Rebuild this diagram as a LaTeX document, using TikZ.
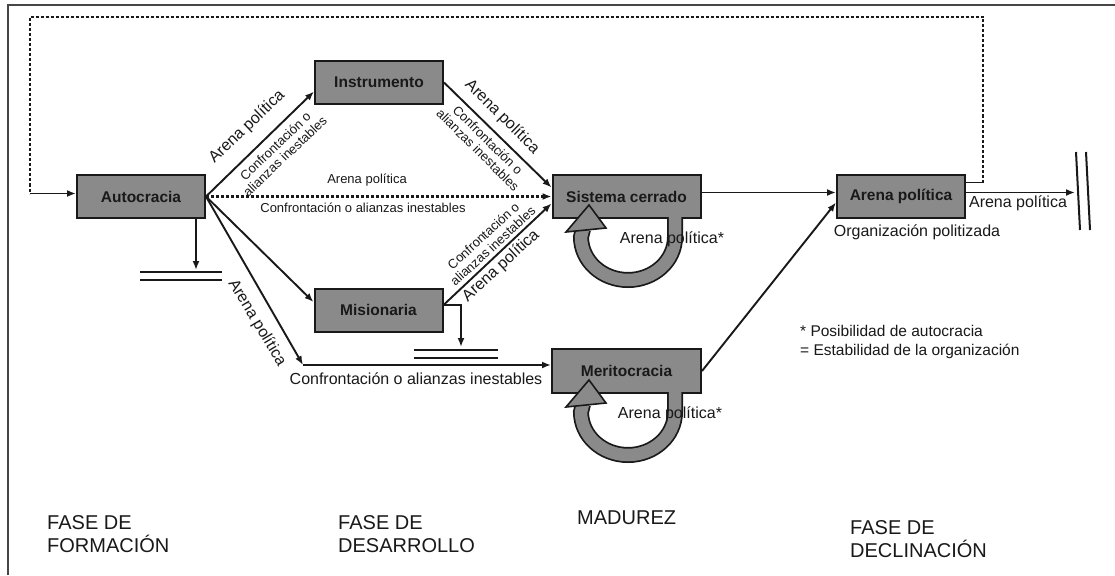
\documentclass[tikz,border=0pt]{standalone}
\usepackage{fontspec}
\setmainfont{Liberation Sans}
\usetikzlibrary{arrows.meta,calc}
\definecolor{boxgray}{RGB}{138,138,138}
\definecolor{ink}{RGB}{25,25,25}
\definecolor{framegray}{RGB}{70,70,70}
\begin{document}
\begin{tikzpicture}[x=1pt,y=-1pt,
 stage/.style={draw=ink, fill=boxgray, line width=2pt, inner sep=0pt, font=\fontsize{15.5}{18}\selectfont\bfseries, text=ink},
 conn/.style={draw=ink, line width=1.9pt, -{Latex[length=9pt,width=7pt]}},
 plainline/.style={draw=ink, line width=1.9pt},
 dotline/.style={draw=ink, line width=2.2pt, dash pattern=on 3pt off 2pt},
 lbl/.style={font=\fontsize{16}{18}\selectfont, text=ink, inner sep=0pt},
 slbl/.style={font=\fontsize{13}{14}\selectfont, text=ink, inner sep=0pt, align=center},
 phase/.style={font=\fontsize{20}{23}\selectfont, text=ink, align=left, anchor=west, inner sep=0pt},
 bar/.style={draw=ink, line width=2pt},
]
\useasboundingbox (0,0) rectangle (1115,575);
\fill[white] (0,0) rectangle (1115,575);
\draw[framegray, line width=2pt] (8,575) -- (8,5) -- (1115,5);

% stages
\node[stage, minimum width=128pt, minimum height=43pt] (auto) at (141,196.5) {Autocracia};
\node[stage, minimum width=128pt, minimum height=43pt] (instr) at (379,82.5) {Instrumento};
\node[stage, minimum width=148pt, minimum height=43pt] (sis) at (626.5,196.5) {Sistema cerrado};
\node[stage, minimum width=128pt, minimum height=43pt] (mis) at (378.5,310) {Misionaria};
\node[stage, minimum width=149pt, minimum height=44pt] (mer) at (626.5,371) {Meritocracia};
\node[stage, minimum width=128pt, minimum height=43pt] (arena) at (901,196.5) {Arena política};

% coordinates
\coordinate (corner) at (303,365);
\coordinate (autostop) at (196,270);
\coordinate (misstop) at (461,347);
\coordinate (endstop) at (1075,192.5);
\coordinate (dr) at (983,182.5);
\coordinate (tl) at (30,17);
\coordinate (dl) at (30,193.5);

% connectors
\draw[conn] (auto.east) -- ($(instr.west)+(0,9)$);
\draw[dotline, -{Latex[length=9pt,width=7pt]}] (auto.east) -- (sis.west);
\draw[conn] (auto.east) -- ($(mis.west)+(0,-8)$);
\draw[conn] (auto.east) -- (corner);
\draw[conn] (corner) -- ($(mer.west)+(0,-6)$);
\draw[conn] (auto.south -| autostop) -- (autostop);
\draw[bar] (140,272) -- (222,272);
\draw[bar] (140,280) -- (222,280);
\draw[conn] (instr.east) -- ($(sis.west)+(0,-9)$);
\draw[conn] ($(mis.east)+(0,-5)$) -- ($(sis.west)+(0,7)$);
\draw[conn] ($(mis.east)+(0,-5)$) -| (misstop);
\draw[bar] (414,350) -- (498,350);
\draw[bar] (414,358) -- (498,358);
\draw[conn] ($(sis.east)+(0,-4)$) -- ($(arena.west)+(0,-4)$);
\draw[conn] (mer.east) -- ($(arena.west)+(0,6)$);
\draw[conn] ($(arena.east)+(0,-4)$) -- (endstop);
\draw[bar] (1076,152) -- (1080,230);
\draw[bar] (1086,152) -- (1090,230);
\draw[plainline] ($(arena.east)+(0,-14)$) -- (dr);
\draw[dotline] (dr) |- (tl) -- (dl);
\draw[conn] (dl) -- ($(auto.west)+(0,-3)$);

% self loops
\foreach \dy in {0,175}{
\begin{scope}[shift={(0,\dy)}]
\draw[ink, line width=16pt] (675,218) -- (675,237) .. controls (675,260.7) and (654,280) .. (628,280) .. controls (602,280) and (581,260.7) .. (581,237) -- (583,229);
\draw[boxgray, line width=12.5pt] (675,217) -- (675,237) .. controls (675,260.7) and (654,280) .. (628,280) .. controls (602,280) and (581,260.7) .. (581,237) -- (583,229);
\filldraw[fill=boxgray, draw=ink, line width=1.6pt, line join=miter] (566,232) -- (589,205) -- (606,228) -- cycle;
\end{scope}}

% labels
\node[lbl, rotate=43.7] (l1) at (247,127) {Arena política};
\node[slbl, rotate=43.7] (l2) at (280,151) {Confrontación o\\alianzas inestables};
\node[lbl, rotate=-44.7] (l3) at (502,117) {Arena política};
\node[slbl, rotate=-44.7] (l4) at (483,145) {Confrontación o\\alianzas inestables};
\node[slbl, rotate=42.5] (l5) at (488,241) {Confrontación o\\alianzas inestables};
\node[lbl, rotate=42.5] (l6) at (501,266) {Arena política};
\node[lbl, rotate=-59] (l7) at (257,323) {Arena política};
\node[slbl] (l8) at (367,180) {Arena política};
\node[slbl] (l9) at (363,208) {Confrontación o alianzas inestables};
\node[lbl] (l10) at (416,379) {Confrontación o alianzas inestables};
\node[lbl] (l11) at (672,239) {Arena política*};
\node[lbl] (l12) at (670,414) {Arena política*};
\node[lbl] (l13) at (1018,203) {Arena política};
\node[lbl] (l14) at (917,232) {Organización politizada};
\node[lbl, anchor=west, align=left, font=\fontsize{15.5}{19}\selectfont] (leg) at (800,341.5) {* Posibilidad de autocracia\\= Estabilidad de la organización};

% phases
\node[phase] (p1) at (47,534.5) {FASE DE\\FORMACIÓN};
\node[phase] (p2) at (338,534.5) {FASE DE\\DESARROLLO};
\node[phase] (p3) at (577,518) {MADUREZ};
\node[phase] (p4) at (850,539.5) {FASE DE\\DECLINACIÓN};
\end{tikzpicture}
\end{document}
